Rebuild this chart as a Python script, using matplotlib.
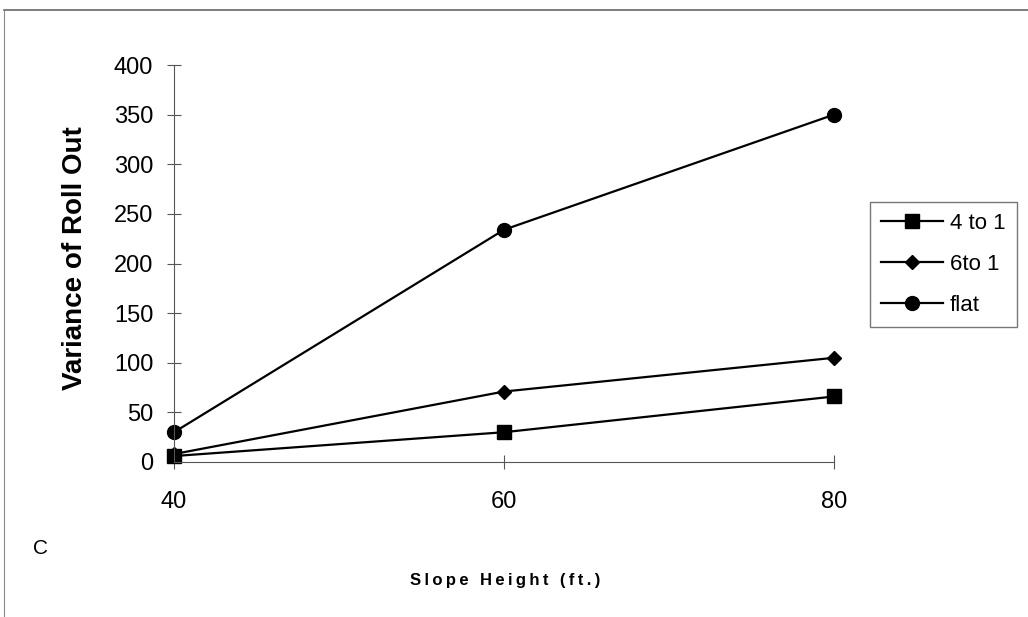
import matplotlib.pyplot as plt
from matplotlib.lines import Line2D

plt.rcParams['font.family'] = ['Liberation Sans', 'DejaVu Sans']

# Data
slope_height = [40, 60, 80]
four_to_one = [6, 30, 66]
six_to_one = [8, 71, 105]
flat = [30, 234, 350]

y_ticks = [0, 50, 100, 150, 200, 250, 300, 350, 400]

fig = plt.figure(figsize=(10.28, 6.17), dpi=100)
ax = fig.add_axes([174 / 1028, 1 - 462 / 617, (834 - 174) / 1028, (462 - 65) / 617])

ax.plot(slope_height, four_to_one, color='black', lw=1.6, marker='s', ms=10, label='4 to 1')
ax.plot(slope_height, six_to_one, color='black', lw=1.6, marker='D', ms=7, label='6to 1')
ax.plot(slope_height, flat, color='black', lw=1.6, marker='o', ms=10, label='flat')

ax.set_xlim(40, 80)
ax.set_ylim(0, 400)
ax.set_xticks(slope_height)
ax.set_yticks(y_ticks)
for side in ['top', 'right']:
    ax.spines[side].set_visible(False)
for side in ['left', 'bottom']:
    ax.spines[side].set_color('#555555')
    ax.spines[side].set_linewidth(0.8)
    ax.spines[side].set_clip_on(False)
ax.tick_params(axis='both', direction='inout', length=10, width=0.8, color='#555555',
               labelsize=17)
ax.tick_params(axis='y', pad=10)
ax.tick_params(axis='x', pad=16)
for line in ax.get_lines():
    line.set_clip_on(False)

ax.set_ylabel('Variance of Roll Out', fontsize=20, fontweight='bold')
ax.yaxis.set_label_coords(88 / 1028, 1 - 258 / 617, transform=fig.transFigure)
xlabel = '\u2009'.join('Slope Height (ft.)')
fig.text(505 / 1028, 1 - 580 / 617, xlabel, fontsize=12, fontweight='bold',
         ha='center', va='center')
fig.text(40 / 1028, 1 - 548 / 617, 'C', fontsize=15, ha='center', va='center')

leg = ax.legend(loc='upper left', bbox_to_anchor=(870 / 1028, 1 - 202 / 617),
                bbox_transform=fig.transFigure, frameon=True, fancybox=False,
                fontsize=16, handlelength=2.8, handletextpad=0.3, labelspacing=0.9,
                borderpad=0.5, borderaxespad=0)
leg.get_frame().set_edgecolor('#555555')
leg.get_frame().set_linewidth(1.0)

# outer page frame (top and left)
fig.add_artist(Line2D([4 / 1028, 1], [1 - 10 / 617, 1 - 10 / 617], transform=fig.transFigure,
                      color='#666666', lw=1.2))
fig.add_artist(Line2D([4 / 1028, 4 / 1028], [0, 1 - 10 / 617], transform=fig.transFigure,
                      color='#888888', lw=0.8))

fig.savefig('out.png', dpi=100)
